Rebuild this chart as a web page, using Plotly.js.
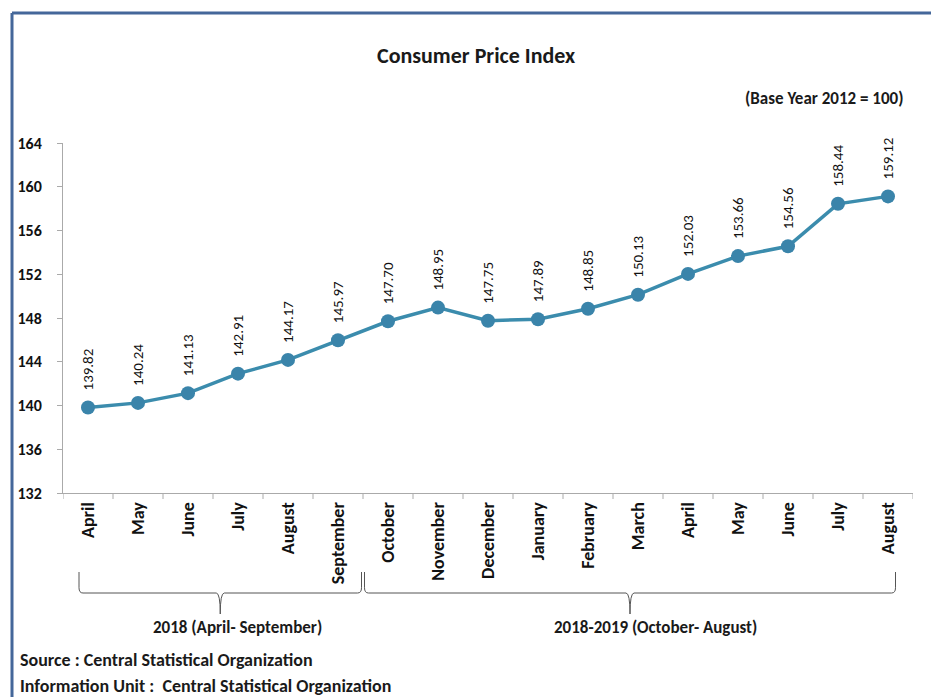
<!DOCTYPE html>
<html>
<head>
<meta charset="utf-8">
<script src="https://cdn.plot.ly/plotly-3.0.1.min.js"></script>
<style>
html,body{margin:0;padding:0;background:#fff;}
#chart{width:931px;height:697px;}
</style>
</head>
<body>
<div id="chart"></div>
<script>
var months = ["April","May","June","July","August","September","October","November","December","January","February","March","April","May","June","July","August"];
var cpi = [139.82,140.24,141.13,142.91,144.17,145.97,147.70,148.95,147.75,147.89,148.85,150.13,152.03,153.66,154.56,158.44,159.12];
var yTicks = [132,136,140,144,148,152,156,160,164];
var periodLabels = ["2018 (April- September)","2018-2019 (October- August)"];
var periodStart = [0,6];
var periodEnd = [5,16];
var titleText = "Consumer Price Index";
var subtitleText = "(Base Year 2012 = 100)";
var sourceText = "Source : Central Statistical Organization";
var infoText = "Information Unit :  Central Statistical Organization";

var FONT = "Carlito, 'Liberation Sans Narrow', 'Open Sans', sans-serif";
var W = 931, H = 697;
var L = 63, R = 18, T = 143, B = 204;
var pw = W - L - R, ph = H - T - B;
var n = months.length;
var cats = months.map(function(m,i){ return i; });
function px2x(px){ return (px - L) / pw; }
function py2y(py){ return (H - B - py) / ph; }
function idx2x(i){ return (i + 0.5) / n; }

var trace = {
  x: cats, y: cpi, type: 'scatter', mode: 'lines+markers',
  line: {color: '#3b8cad', width: 3.5},
  marker: {color: '#3a84aa', size: 14},
  hoverinfo: 'skip'
};

var annotations = cpi.map(function(v,i){
  return {x: i, y: v, xref: 'x', yref: 'y', text: v.toFixed(2), showarrow: false,
    textangle: -90, xanchor: 'center', yanchor: 'bottom', yshift: 15,
    font: {family: FONT, size: 15, color: '#111'}};
});
annotations.push({xref:'paper', yref:'paper', x: px2x(476), y: py2y(55), text: titleText, showarrow:false,
  xanchor:'center', yanchor:'middle', font:{family:FONT, size:22, color:'#1a1a1a', weight:'bold'}});
annotations.push({xref:'paper', yref:'paper', x: px2x(905), y: py2y(98), text: subtitleText, showarrow:false,
  xanchor:'right', yanchor:'middle', font:{family:FONT, size:17, color:'#1a1a1a', weight:'bold'}});
annotations.push({xref:'paper', yref:'paper', x: px2x(18), y: py2y(660), text: sourceText, showarrow:false,
  xanchor:'left', yanchor:'middle', font:{family:FONT, size:18, color:'#1a1a1a', weight:'bold'}});
annotations.push({xref:'paper', yref:'paper', x: px2x(18), y: py2y(686), text: infoText, showarrow:false,
  xanchor:'left', yanchor:'middle', font:{family:FONT, size:18, color:'#1a1a1a', weight:'bold'}});

var shapes = [];
// braces
var braceTopL = py2y(572), braceLine = py2y(593), braceTip = py2y(614);
for (var k = 0; k < periodLabels.length; k++) {
  var x0 = idx2x(periodStart[k]) - (k===0 ? 0.18 : 0.47) / n;
  var x1 = idx2x(periodEnd[k]) + (k===0 ? 0.47 : 0.15) / n;
  var xm = (x0 + x1) / 2;
  var c = 0.08 / n;
  var d = 'M ' + x0 + ' ' + braceTopL +
    ' L ' + x0 + ' ' + (braceLine + 0.015) +
    ' Q ' + x0 + ' ' + braceLine + ' ' + (x0 + c) + ' ' + braceLine +
    ' L ' + (xm - c) + ' ' + braceLine +
    ' Q ' + xm + ' ' + braceLine + ' ' + xm + ' ' + braceTip +
    ' Q ' + xm + ' ' + braceLine + ' ' + (xm + c) + ' ' + braceLine +
    ' L ' + (x1 - c) + ' ' + braceLine +
    ' Q ' + x1 + ' ' + braceLine + ' ' + x1 + ' ' + (braceLine + 0.015) +
    ' L ' + x1 + ' ' + braceTopL;
  shapes.push({type:'path', xref:'paper', yref:'paper', path: d, line:{color:'#555', width:1}});
  annotations.push({xref:'paper', yref:'paper', x: xm + (k===0 ? 0.02 : 0.03), y: py2y(627), text: periodLabels[k], showarrow:false,
    xanchor:'center', yanchor:'middle', font:{family:FONT, size:17, color:'#1a1a1a', weight:'bold'}});
}
// frame border (top and left)
shapes.push({type:'line', xref:'paper', yref:'paper', x0: px2x(12), x1: px2x(940), y0: py2y(13), y1: py2y(13), line:{color:'#44679a', width:3}});
shapes.push({type:'line', xref:'paper', yref:'paper', x0: px2x(12), x1: px2x(12), y0: py2y(13), y1: py2y(710), line:{color:'#44679a', width:3}});

var layout = {
  width: W, height: H,
  margin: {l: L, r: R, t: T, b: B, pad: 0},
  paper_bgcolor: '#fff', plot_bgcolor: '#fff',
  showlegend: false,
  font: {family: FONT, color: '#1a1a1a'},
  xaxis: {
    type: 'linear', range: [-0.5, n - 0.5], tickmode: 'array', tickvals: cats, ticktext: months,
    tickangle: -90, showgrid: false, zeroline: false, showline: true, linecolor: '#aaa', linewidth: 1,
    ticks: '', tickfont: {family: FONT, size: 18, color: '#111', weight: 'bold'}, ticklabelstandoff: 1, fixedrange: true
  },
  yaxis: {
    range: [132, 164], tickmode: 'array', tickvals: yTicks, showgrid: false, zeroline: false,
    showline: true, linecolor: '#aaa', linewidth: 1, ticks: 'outside', ticklen: 5, tickcolor: '#aaa',
    tickfont: {family: FONT, size: 16, color: '#111', weight: 'bold'}, ticklabelstandoff: 12, fixedrange: true
  },
  annotations: annotations,
  shapes: shapes
};
// x tick marks at category boundaries
var xb = [];
for (var i = 0; i <= n; i++) xb.push(i - 0.5);
xb.forEach(function(b){
  shapes.push({type:'line', xref:'x', yref:'paper', x0: b, x1: b, y0: 0, y1: -6/ph, line:{color:'#aaa', width:1}});
});

Plotly.newPlot('chart', [trace], layout, {staticPlot: true, displayModeBar: false});
</script>
</body>
</html>
